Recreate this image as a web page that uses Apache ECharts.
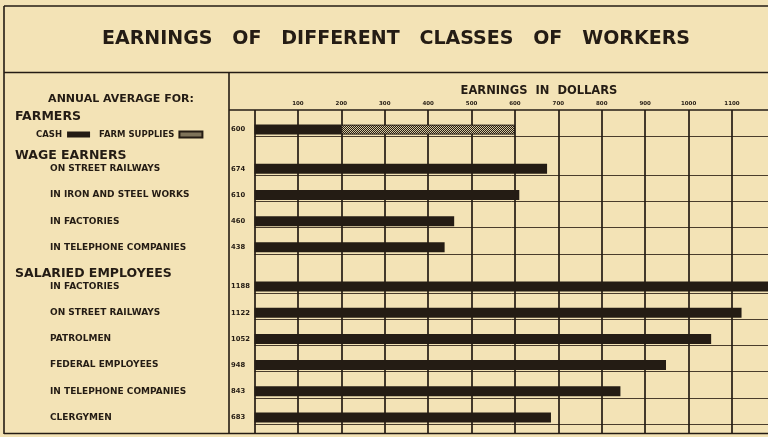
<!DOCTYPE html>
<html>
<head>
<meta charset="utf-8">
<script src="https://cdn.jsdelivr.net/npm/echarts@6/dist/echarts.min.js"></script>
<style>
  html, body { margin: 0; padding: 0; background: #f3e3b6; }
  #chart { width: 768px; height: 437px; }
</style>
</head>
<body>
<div id="chart"></div>
<script>
// data
var groupNames = ['FARMERS', 'WAGE EARNERS', 'SALARIED EMPLOYEES'];
var farmCash = 200;
var farmSupplies = 400;
var farmTotal = 600;
var wageLabels = ['ON STREET RAILWAYS', 'IN IRON AND STEEL WORKS', 'IN FACTORIES', 'IN TELEPHONE COMPANIES'];
var wageValues = [674, 610, 460, 438];
var salariedLabels = ['IN FACTORIES', 'ON STREET RAILWAYS', 'PATROLMEN', 'FEDERAL EMPLOYEES', 'IN TELEPHONE COMPANIES', 'CLERGYMEN'];
var salariedValues = [1188, 1122, 1052, 948, 843, 683];
var xTicks = [100, 200, 300, 400, 500, 600, 700, 800, 900, 1000, 1100];

var ink = '#241c14';
var paper = '#f3e3b6';
var font = 'DejaVu Sans';

// each group: heading row, then a bar row + blank row per item
var slots = [];
function addGroup(name, labels, values, cash, supplies) {
	slots.push({label: name, head: true});
	for (var i = 0; i < labels.length; i++) {
		slots.push({label: labels[i], bar: true, value: values[i], cash: cash, supplies: supplies});
		slots.push({label: ''});
	}
}
addGroup(groupNames[0], [''], [farmTotal], farmCash, farmSupplies);
addGroup(groupNames[1], wageLabels, wageValues);
addGroup(groupNames[2], salariedLabels, salariedValues);

var cats = slots.map(function(s, i){ return 'r' + i; });

// checkered fill for farm supplies
var pc = document.createElement('canvas');
pc.width = 2; pc.height = 2;
var pctx = pc.getContext('2d');
pctx.fillStyle = '#241c14';
pctx.fillRect(0, 0, 2, 2);
pctx.fillStyle = '#d9caa0';
pctx.fillRect(0, 0, 1, 1);
pctx.fillRect(1, 1, 1, 1);
var checker = {image: pc, repeat: 'repeat'};

var ec = echarts.init(document.getElementById('chart'));
var option = {
	backgroundColor: paper,
	animation: false,
	title: [
		{
			text: 'EARNINGS   OF   DIFFERENT   CLASSES   OF   WORKERS',
			left: 391, top: 25, textAlign: 'center',
			textStyle: {fontFamily: font, fontSize: 19, fontWeight: 'bold', color: ink}
		},
		{
			text: 'EARNINGS  IN  DOLLARS',
			left: 534, top: 80, textAlign: 'center',
			textStyle: {fontFamily: font, fontSize: 11.5, fontWeight: 'bold', color: ink}
		},
		{
			text: 'ANNUAL AVERAGE FOR:',
			left: 116, top: 89, textAlign: 'center',
			textStyle: {fontFamily: font, fontSize: 11, fontWeight: 'bold', color: ink}
		}
	],
	legend: {
		data: ['CASH', 'FARM SUPPLIES'],
		left: 31, top: 125,
		align: 'right', icon: 'rect',
		itemWidth: 23, itemHeight: 6, itemGap: 9,
		textStyle: {fontFamily: font, fontSize: 8.5, fontWeight: 'bold', color: ink},
		selectedMode: false
	},
	grid: {left: 254.5, top: 110, width: 523.5, height: 327, outerBoundsMode: 'none'},
	xAxis: {
		type: 'value', position: 'top',
		min: 0, max: 1206, interval: 100,
		axisLine: {show: false}, axisTick: {show: false},
		splitLine: {show: true, lineStyle: {color: ink, width: 1.7}},
		axisLabel: {
			margin: 3, fontFamily: font, fontSize: 5.5, fontWeight: 'bold', color: ink,
			formatter: function(v){ return xTicks.indexOf(v) >= 0 ? String(v) : ''; }
		}
	},
	yAxis: [
		{
			type: 'category', data: cats, inverse: true,
			axisLine: {show: false}, axisTick: {show: false},
			splitLine: {
				show: true,
				interval: function(i){ return i > 0 && !!slots[i - 1].bar; },
				lineStyle: {color: '#4a3d2c', width: 1}
			},
			axisLabel: {
				interval: 0, align: 'left', margin: 239.5,
				formatter: function(v, i){
					var s = slots[i];
					if (!s.label) return '';
					return s.head ? '{h|' + s.label + '}' : '{i|' + s.label + '}';
				},
				rich: {
					h: {fontFamily: font, fontSize: 12.5, fontWeight: 'bold', color: ink},
					i: {fontFamily: font, fontSize: 9, fontWeight: 'bold', color: ink, padding: [0, 0, 0, 35]}
				}
			}
		},
		{
			type: 'category', data: cats, inverse: true, position: 'left',
			axisLine: {show: false}, axisTick: {show: false}, splitLine: {show: false},
			axisLabel: {
				interval: 0, align: 'left', margin: 23.5,
				fontFamily: font, fontSize: 6.8, fontWeight: 'bold', color: ink,
				formatter: function(v, i){ return slots[i].bar ? String(slots[i].value) : ''; }
			}
		}
	],
	series: [
		{
			name: 'CASH', type: 'bar', stack: 'all', barWidth: 10,
			itemStyle: {color: ink},
			data: slots.map(function(s){ return s.cash != null ? s.cash : null; })
		},
		{
			name: 'FARM SUPPLIES', type: 'bar', stack: 'all', barWidth: 10,
			itemStyle: {color: checker, borderColor: ink, borderWidth: 1},
			data: slots.map(function(s){ return s.supplies != null ? s.supplies : null; })
		},
		{
			name: 'EARNINGS', type: 'bar', stack: 'all', barWidth: 10,
			itemStyle: {color: ink},
			data: slots.map(function(s){ return s.bar && s.cash == null ? s.value : null; })
		}
	],
	graphic: [
		{type: 'rect', shape: {x: 0, y: 434, width: 768, height: 4}, style: {fill: paper}, z: 100},
		{type: 'line', shape: {x1: 4, y1: 6, x2: 768, y2: 6}, style: {stroke: ink, lineWidth: 1.6}, z: 101},
		{type: 'line', shape: {x1: 4, y1: 6, x2: 4, y2: 434}, style: {stroke: ink, lineWidth: 1.6}, z: 101},
		{type: 'line', shape: {x1: 4, y1: 72.5, x2: 768, y2: 72.5}, style: {stroke: ink, lineWidth: 1.6}, z: 101},
		{type: 'line', shape: {x1: 229, y1: 72.5, x2: 229, y2: 434}, style: {stroke: ink, lineWidth: 1.6}, z: 101},
		{type: 'line', shape: {x1: 229, y1: 110, x2: 768, y2: 110}, style: {stroke: ink, lineWidth: 1.6}, z: 101},
		{type: 'line', shape: {x1: 4, y1: 433.5, x2: 768, y2: 433.5}, style: {stroke: ink, lineWidth: 1.6}, z: 101}
	]
};
ec.setOption(option);
</script>
</body>
</html>
